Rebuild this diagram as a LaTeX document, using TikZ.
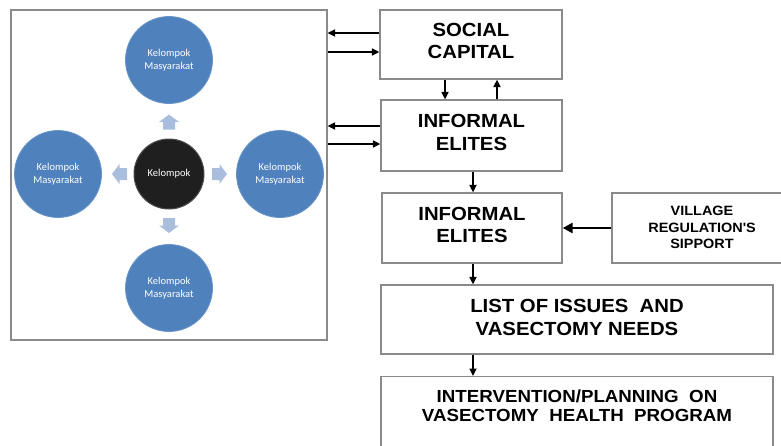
\documentclass[tikz,border=0pt]{standalone}
\usepackage{fontspec}
\setmainfont[FakeStretch=1.07]{Liberation Sans}
\newfontfamily\calib{Carlito}
\usetikzlibrary{arrows.meta}
\definecolor{circblue}{HTML}{4F81BD}
\definecolor{lightarr}{HTML}{A9BEDD}
\definecolor{boxgray}{HTML}{8A8A8A}
\tikzset{
  box/.style={draw=boxgray, line width=1.3pt, rectangle, inner sep=0pt},
  boxtext/.style={align=center, inner sep=0pt, font=\bfseries\fontsize{19}{22.5}\selectfont},
  blue circ/.style={circle, fill=circblue, draw=circblue!85!white, line width=0.8pt, minimum size=87pt, inner sep=0pt, text=white, align=center, font=\calib\fontsize{10.5}{12.5}\selectfont},
  blk circ/.style={circle, fill=black!88, draw=black!70, line width=1pt, minimum size=70pt, inner sep=0pt, text=white, font=\calib\fontsize{10.5}{12.5}\selectfont},
  arr/.style={-{Triangle[length=7.5pt,width=7pt]}, line width=1.6pt, black},
  thickarr/.style={-{Triangle[length=10pt,width=10pt]}, line width=2.6pt, black},
  pics/blockarrow/.style={code={
    \fill[lightarr] (-7.5,-6) -- (0,-6) -- (0,-10) -- (7.5,0) -- (0,10) -- (0,6) -- (-7.5,6) -- cycle;
  }}
}
\begin{document}
\begin{tikzpicture}[x=1pt,y=-1pt]
\useasboundingbox (0,0) rectangle (781,445);
\clip (0,0) rectangle (781,445);
% left panel
\node[draw=boxgray, line width=1.2pt, minimum width=316pt, minimum height=330pt, inner sep=0pt] (panel) at (169,175) {};
\node[blk circ] (k) at (169,174) {Kelompok};
\node[blue circ] (top) at (169,60) {Kelompok\\Masyarakat};
\node[blue circ] (left) at (58,174) {Kelompok\\Masyarakat};
\node[blue circ] (right) at (280,174) {Kelompok\\Masyarakat};
\node[blue circ] (bottom) at (169,288) {Kelompok\\Masyarakat};
\pic[rotate=90] (au) at (169,122) {blockarrow};
\pic[rotate=180] (al) at (119.5,174) {blockarrow};
\pic (ar) at (219.5,174) {blockarrow};
\pic[rotate=-90] (ad) at (169,225.5) {blockarrow};
% right boxes
\node[box, minimum width=182pt, minimum height=69pt] (sc) at (471,44.5) {};
\node[boxtext] (sct) at (471,41) {SOCIAL\\CAPITAL};
\node[box, minimum width=181pt, minimum height=71pt] (ie1) at (471.5,135.5) {};
\node[boxtext] (ie1t) at (471.5,132.5) {INFORMAL\\ELITES};
\node[box, minimum width=180pt, minimum height=70pt] (ie2) at (472,228) {};
\node[boxtext] (ie2t) at (472,225) {INFORMAL\\ELITES};
\node[box, minimum width=180pt, minimum height=70pt] (vil) at (702,228) {};
\node[boxtext, font=\bfseries\fontsize{13.5}{16.5}\selectfont] (vilt) at (702,227.5) {VILLAGE\\REGULATION\textquotesingle S\\SIPPORT};
\node[box, minimum width=392pt, minimum height=69pt] (list) at (577,319.5) {};
\node[boxtext, font=\bfseries\fontsize{19}{23}\selectfont] (listt) at (577,317.5) {LIST OF ISSUES\ \ AND\\VASECTOMY NEEDS};
\node[box, minimum width=392pt, minimum height=100pt, anchor=north] (int) at (577,376) {};
\node[boxtext, font=\bfseries\fontsize{17.5}{19}\selectfont, anchor=north] (intt) at (577,389.5) {INTERVENTION/PLANNING\ \ ON\\VASECTOMY\ \ HEALTH\ \ PROGRAM};
% connectors
\draw[arr] (sc.west |- 0,33) -- (panel.east |- 0,33);
\draw[arr] (panel.east |- 0,52) -- (sc.west |- 0,52);
\draw[arr] (ie1.west |- 0,126) -- (panel.east |- 0,126);
\draw[arr] (panel.east |- 0,144) -- (ie1.west |- 0,144);
\draw[arr] (sc.south -| 445,0) -- (ie1.north -| 445,0);
\draw[arr] (ie1.north -| 497,0) -- (sc.south -| 497,0);
\draw[arr] (ie1.south -| 473,0) -- (ie2.north -| 473,0);
\draw[thickarr] (vil.west) -- (ie2.east);
\draw[arr] (ie2.south -| 473,0) -- (list.north -| 473,0);
\draw[arr] (list.south -| 473,0) -- (int.north -| 473,0);
\end{tikzpicture}
\end{document}
